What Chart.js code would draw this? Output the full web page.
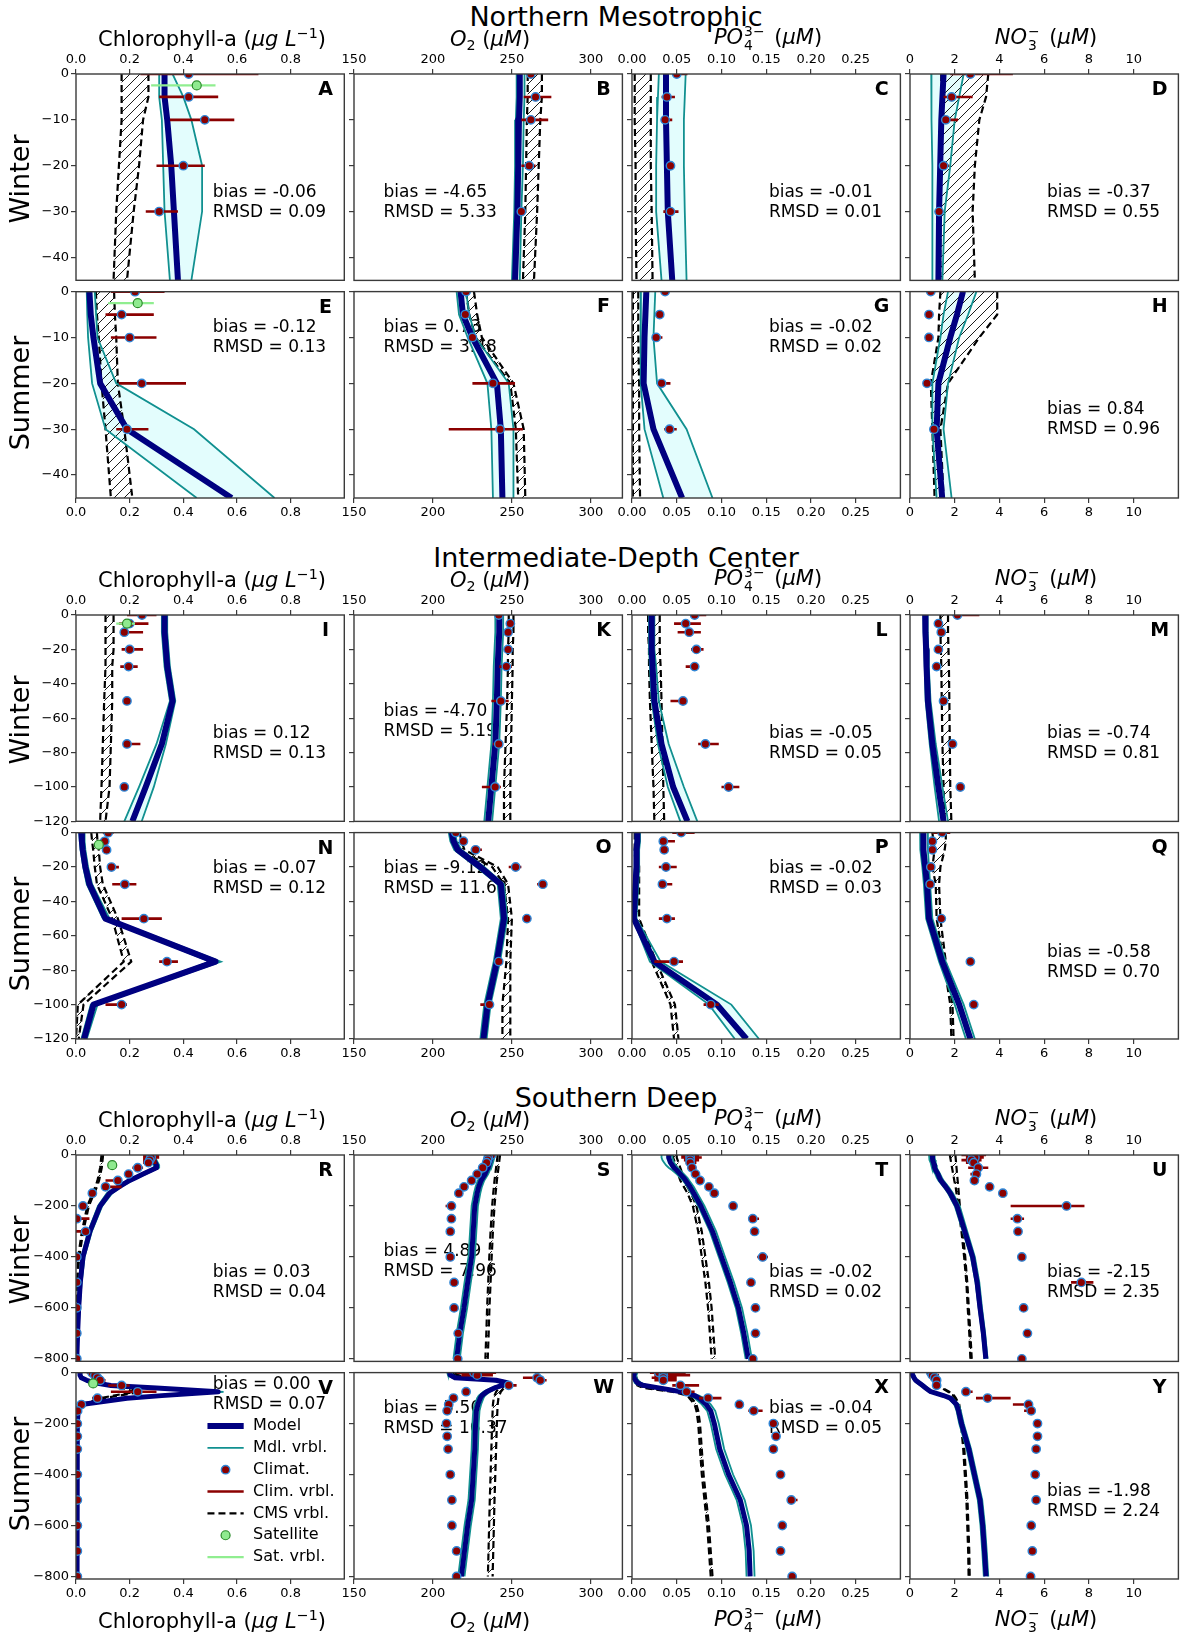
<!DOCTYPE html>
<html>
<head>
<meta charset="utf-8">
<script src="https://cdn.jsdelivr.net/npm/chart.js@4.4.1/dist/chart.umd.min.js"></script>
<style>
  body { margin: 0; background: #fff; }
  #fig { position: relative; width: 1186px; height: 1637px; overflow: hidden; font-family: "DejaVu Sans", sans-serif; }
  #fig canvas { position: absolute; }
  .t { position: absolute; white-space: nowrap; line-height: 1; color: #000; z-index: 5; }
  .sec { font-size: 27px; }
  .ax { font-size: 21px; }
  .rowlab { font-size: 27px; }
  .t sup { font-size: 0.68em; vertical-align: 0.55em; line-height: 0; }
  .t sub { font-size: 0.68em; vertical-align: -0.3em; line-height: 0; }
  .ss { display: inline-block; vertical-align: -0.42em; font-size: 0.66em; line-height: 1.0; margin: 0 3px 0 1px; font-style: normal; }
  .ss span { display: block; }
</style>
</head>
<body>
<div id="fig"></div>
<script>
// -----------------------------
// Depth grids (m)
// -----------------------------
const depth1 = [0, -5, -10, -20, -30, -45];
const climDepth1 = [0, -5, -10, -20, -30];
const depth2 = [0, -5, -10, -20, -30, -50, -75, -100, -120];
const climDepth2 = [0, -5, -10, -20, -30, -50, -75, -100];
const depth3 = [0, -10, -20, -30, -40, -50, -60, -75, -90, -100, -125, -150, -200, -300, -400, -500, -600, -700, -800];
const climDepth3 = [0, -10, -20, -30, -50, -75, -100, -125, -150, -200, -250, -300, -400, -500, -600, -700, -800];

// -----------------------------
// Northern Mesotrophic
// -----------------------------
const modelA = [0.33, 0.33, 0.34, 0.355, 0.365, 0.38];
const mdlLoA = [0.31, 0.31, 0.32, 0.325, 0.33, 0.35];
const mdlHiA = [0.36, 0.40, 0.43, 0.47, 0.47, 0.43];
const cmsLoA = [0.17, 0.17, 0.17, 0.16, 0.15, 0.14];
const cmsHiA = [0.27, 0.27, 0.25, 0.235, 0.215, 0.19];
const climA = [0.42, 0.42, 0.48, 0.40, 0.31];
const climLoA = [0.24, 0.31, 0.35, 0.30, 0.26];
const climHiA = [0.68, 0.53, 0.59, 0.48, 0.38];
const satA = [-2.5, 0.45, 0.28, 0.52]; // depth, value, min, max

const modelB = [255, 255, 254.5, 254, 253.5, 252];
const mdlLoB = [253, 253, 252.5, 252, 251.5, 250];
const mdlHiB = [258, 258, 257.5, 257, 256, 255];
const cmsLoB = [260, 260, 259.5, 259, 258.5, 257];
const cmsHiB = [269, 269, 268, 267, 266, 264];
const climB = [262, 265, 262, 261, 256];
const climLoB = [261, 257.5, 256, 256, 255];
const climHiB = [263, 275, 273, 265, 257];

const modelC = [0.038, 0.038, 0.038, 0.039, 0.040, 0.045];
const mdlLoC = [0.030, 0.029, 0.028, 0.027, 0.027, 0.033];
const mdlHiC = [0.060, 0.059, 0.058, 0.058, 0.059, 0.061];
const cmsLoC = [0.003, 0.003, 0.003, 0.004, 0.004, 0.005];
const cmsHiC = [0.021, 0.021, 0.021, 0.021, 0.022, 0.023];
const climC = [0.050, 0.039, 0.037, 0.043, 0.043];
const climLoC = [0.045, 0.033, 0.033, 0.041, 0.035];
const climHiC = [0.062, 0.048, 0.045, 0.046, 0.052];

const modelD = [1.5, 1.45, 1.4, 1.35, 1.3, 1.27];
const mdlLoD = [0.95, 0.95, 0.97, 1.0, 1.0, 1.0];
const mdlHiD = [2.4, 2.2, 2.0, 1.8, 1.55, 1.45];
const cmsLoD = [1.4, 1.4, 1.4, 1.38, 1.36, 1.35];
const cmsHiD = [3.5, 3.4, 3.1, 2.9, 2.8, 2.9];
const climD = [2.7, 1.86, 1.6, 1.5, 1.3];
const climLoD = [1.8, 1.5, 1.5, 1.4, 1.2];
const climHiD = [4.6, 2.8, 2.15, 1.75, 1.4];

const modelE = [0.05, 0.055, 0.065, 0.09, 0.19, 0.58];
const mdlLoE = [0.04, 0.042, 0.045, 0.06, 0.11, 0.45];
const mdlHiE = [0.07, 0.075, 0.08, 0.15, 0.44, 0.74];
const cmsLoE = [0.074, 0.078, 0.085, 0.095, 0.11, 0.13];
const cmsHiE = [0.142, 0.145, 0.15, 0.156, 0.18, 0.21];
const climE = [0.22, 0.17, 0.20, 0.245, 0.19];
const climLoE = [0.13, 0.11, 0.13, 0.16, 0.15];
const climHiE = [0.33, 0.29, 0.30, 0.41, 0.27];
const satE = [-2.5, 0.23, 0.12, 0.29];

const modelF = [217.5, 219, 225, 240.5, 243, 244];
const mdlLoF = [215, 216.5, 222, 234.5, 237, 238];
const mdlHiF = [221, 223, 227, 248, 251, 251];
const cmsLoF = [221, 223, 227, 249, 252.5, 254];
const cmsHiF = [226, 228, 231, 251, 257.5, 258.5];
const climF = [221, 220.5, 225, 238, 242.5];
const climLoF = [220, 219.5, 224, 225, 210];
const climHiF = [222, 221.5, 226, 252, 257];

const modelG = [0.016, 0.015, 0.014, 0.013, 0.024, 0.056];
const mdlLoG = [0.010, 0.010, 0.010, 0.009, 0.014, 0.035];
const mdlHiG = [0.026, 0.025, 0.024, 0.028, 0.061, 0.090];
const cmsLoG = [0.001, 0.001, 0.001, 0.001, 0.001, 0.001];
const cmsHiG = [0.007, 0.007, 0.007, 0.008, 0.008, 0.009];
const climG = [0.037, 0.031, 0.027, 0.033, 0.042];
const climLoG = [0.035, 0.029, 0.024, 0.028, 0.036];
const climHiG = [0.039, 0.034, 0.034, 0.043, 0.050];

const modelH = [2.37, 2.1, 1.8, 1.27, 1.19, 1.44];
const mdlLoH = [1.7, 1.5, 1.36, 1.0, 1.0, 1.19];
const mdlHiH = [2.97, 2.6, 2.2, 1.7, 1.5, 1.86];
const cmsLoH = [1.36, 1.3, 1.27, 0.93, 1.0, 1.1];
const cmsHiH = [3.9, 3.9, 3.1, 1.7, 1.36, 1.5];
const climH = [0.93, 0.85, 0.85, 0.76, 1.07];
const climLoH = [0.88, 0.8, 0.8, 0.72, 1.0];
const climHiH = [0.98, 0.95, 0.92, 0.8, 1.15];

// -----------------------------
// Intermediate-Depth Center
// -----------------------------
const modelI = [0.33, 0.33, 0.33, 0.335, 0.34, 0.36, 0.32, 0.26, 0.21];
const mdlLoI = [0.32, 0.32, 0.32, 0.325, 0.33, 0.35, 0.30, 0.235, 0.18];
const mdlHiI = [0.34, 0.34, 0.34, 0.345, 0.35, 0.37, 0.335, 0.29, 0.245];
const cmsLoI = [0.11, 0.11, 0.11, 0.11, 0.11, 0.105, 0.1, 0.095, 0.09];
const cmsHiI = [0.14, 0.14, 0.14, 0.14, 0.135, 0.135, 0.13, 0.125, 0.11];
const climI = [0.246, 0.2, 0.18, 0.2, 0.196, 0.19, 0.19, 0.18];
const climLoI = [0.19, 0.16, 0.17, 0.17, 0.165, 0.185, 0.19, 0.175];
const climHiI = [0.30, 0.27, 0.25, 0.25, 0.23, 0.195, 0.24, 0.185];
const satI = [-5, 0.19, 0.15, 0.22];

const modelK = [242, 242, 242, 241.5, 241, 240.5, 239.5, 237, 235];
const mdlLoK = [239.5, 239.5, 239.5, 239, 238.5, 238, 237, 234.5, 232.5];
const mdlHiK = [244.5, 244.5, 244.5, 244, 243.5, 243, 242, 239.5, 237.5];
const cmsLoK = [248, 248, 248, 247.5, 247.5, 247, 246, 245, 245];
const cmsHiK = [251, 251, 251, 250.5, 250.5, 250, 249.5, 249, 249];
const climK = [241.7, 249, 247.6, 247.6, 246.5, 243, 241.7, 239.4];
const climLoK = [241, 247, 245, 245, 242, 237, 238, 231];
const climHiK = [242.5, 252, 250, 250, 250, 248, 243, 243];

const modelL = [0.022, 0.022, 0.022, 0.022, 0.023, 0.025, 0.033, 0.046, 0.062];
const mdlLoL = [0.019, 0.019, 0.019, 0.019, 0.02, 0.022, 0.029, 0.04, 0.054];
const mdlHiL = [0.025, 0.025, 0.025, 0.025, 0.027, 0.03, 0.041, 0.058, 0.073];
const cmsLoL = [0.018, 0.018, 0.018, 0.019, 0.019, 0.02, 0.022, 0.024, 0.025];
const cmsHiL = [0.031, 0.031, 0.031, 0.031, 0.032, 0.033, 0.034, 0.035, 0.036];
const climL = [0.07, 0.06, 0.064, 0.072, 0.07, 0.057, 0.082, 0.108];
const climLoL = [0.065, 0.047, 0.051, 0.066, 0.06, 0.043, 0.074, 0.1];
const climHiL = [0.083, 0.077, 0.077, 0.08, 0.075, 0.06, 0.097, 0.12];

const modelM = [0.68, 0.68, 0.7, 0.72, 0.74, 0.8, 1.0, 1.27, 1.5];
const mdlLoM = [0.6, 0.6, 0.62, 0.64, 0.66, 0.7, 0.88, 1.1, 1.3];
const mdlHiM = [0.78, 0.78, 0.8, 0.82, 0.84, 0.92, 1.15, 1.45, 1.7];
const cmsLoM = [1.36, 1.36, 1.36, 1.38, 1.4, 1.42, 1.45, 1.5, 1.55];
const cmsHiM = [1.7, 1.7, 1.7, 1.72, 1.74, 1.76, 1.78, 1.8, 1.85];
const climM = [2.12, 1.27, 1.4, 1.27, 1.19, 1.5, 1.9, 2.25];
const climLoM = [1.9, 1.1, 1.35, 1.2, 1.12, 1.45, 1.82, 2.2];
const climHiM = [3.1, 1.4, 1.45, 1.34, 1.25, 1.55, 1.98, 2.3];

const modelN = [0.02, 0.022, 0.025, 0.035, 0.05, 0.11, 0.52, 0.065, 0.03];
const mdlLoN = [0.012, 0.014, 0.017, 0.027, 0.04, 0.1, 0.5, 0.055, 0.02];
const mdlHiN = [0.03, 0.032, 0.035, 0.045, 0.06, 0.125, 0.54, 0.08, 0.04];
const cmsLoN = [0.057, 0.06, 0.064, 0.07, 0.078, 0.135, 0.178, 0.007, 0.0];
const cmsHiN = [0.078, 0.08, 0.085, 0.09, 0.1, 0.156, 0.206, 0.028, 0.01];
const climN = [0.12, 0.107, 0.114, 0.132, 0.182, 0.253, 0.339, 0.17];
const climLoN = [0.1, 0.1, 0.107, 0.12, 0.135, 0.17, 0.31, 0.11];
const climHiN = [0.14, 0.115, 0.12, 0.16, 0.225, 0.32, 0.38, 0.19];
const satN = [-7, 0.085, 0.075, 0.095];

const modelO = [212, 213, 215.7, 230, 243, 245, 240.5, 234.6, 232];
const mdlLoO = [210, 211, 213.5, 227.5, 241, 243, 238.5, 232.5, 230];
const mdlHiO = [214, 215, 218, 232.5, 245, 247, 242.5, 236.5, 234];
const cmsLoO = [213, 214, 216, 237.5, 245, 247.6, 246.5, 244, 244];
const cmsHiO = [217, 218, 220, 241, 247.6, 250, 249, 249, 249];
const climO = [214.5, 219.3, 227, 252.4, 269.6, 259.5, 241.7, 235.8];
const climLoO = [214, 218.5, 224, 248, 266, 259, 240, 230];
const climHiO = [215, 220, 231, 256, 272, 260, 243, 238];

const modelP = [0.006, 0.006, 0.005, 0.005, 0.004, 0.002, 0.025, 0.095, 0.128];
const mdlLoP = [0.004, 0.004, 0.003, 0.003, 0.002, 0.001, 0.02, 0.086, 0.115];
const mdlHiP = [0.009, 0.009, 0.008, 0.008, 0.007, 0.005, 0.032, 0.111, 0.142];
const cmsLoP = [0.003, 0.003, 0.003, 0.004, 0.004, 0.004, 0.022, 0.043, 0.047];
const cmsHiP = [0.007, 0.007, 0.007, 0.008, 0.008, 0.008, 0.027, 0.048, 0.052];
const climP = [0.055, 0.035, 0.036, 0.038, 0.034, 0.039, 0.047, 0.088];
const climLoP = [0.045, 0.035, 0.035, 0.03, 0.034, 0.03, 0.025, 0.08];
const climHiP = [0.07, 0.048, 0.038, 0.05, 0.045, 0.048, 0.057, 0.097];

const modelQ = [0.6, 0.6, 0.6, 0.68, 0.76, 0.85, 1.44, 2.2, 2.7];
const mdlLoQ = [0.45, 0.45, 0.47, 0.55, 0.62, 0.72, 1.3, 2.0, 2.5];
const mdlHiQ = [0.8, 0.8, 0.8, 0.85, 0.9, 1.0, 1.6, 2.4, 2.9];
const cmsLoQ = [1.0, 1.05, 1.1, 1.0, 1.15, 1.19, 1.5, 1.8, 1.85];
const cmsHiQ = [1.6, 1.6, 1.55, 1.36, 1.3, 1.36, 1.6, 1.9, 1.95];
const climQ = [1.44, 1.0, 1.0, 0.93, 0.9, 1.4, 2.7, 2.85];
const climLoQ = [1.0, 0.9, 0.95, 0.88, 0.85, 1.35, 2.65, 2.8];
const climHiQ = [1.8, 1.1, 1.05, 0.98, 0.95, 1.45, 2.75, 2.9];

// -----------------------------
// Southern Deep
// -----------------------------
const modelR = [0.27, 0.28, 0.29, 0.295, 0.30, 0.30, 0.28, 0.25, 0.22, 0.20, 0.16, 0.125, 0.09, 0.052, 0.026, 0.016, 0.01, 0.006, 0.003];
const mdlLoR = [0.26, 0.27, 0.28, 0.285, 0.29, 0.29, 0.27, 0.24, 0.21, 0.19, 0.15, 0.115, 0.082, 0.045, 0.02, 0.011, 0.006, 0.003, 0.001];
const mdlHiR = [0.28, 0.29, 0.30, 0.305, 0.31, 0.31, 0.29, 0.26, 0.23, 0.21, 0.17, 0.135, 0.098, 0.059, 0.032, 0.021, 0.014, 0.009, 0.005];
const cmsLoR = [0.095, 0.094, 0.093, 0.092, 0.091, 0.09, 0.088, 0.085, 0.082, 0.08, 0.072, 0.062, 0.042, 0.022, 0.008, 0.004, 0.002, 0.001, 0.001];
const cmsHiR = [0.101, 0.1, 0.099, 0.098, 0.097, 0.096, 0.094, 0.091, 0.088, 0.086, 0.078, 0.068, 0.048, 0.027, 0.012, 0.006, 0.003, 0.002, 0.002];
const climR = [0.28, 0.28, 0.275, 0.27, 0.23, 0.196, 0.156, 0.11, 0.061, 0.026, 0.003, 0.036, 0.003, 0.003, 0.003, 0.003, 0.003];
const climLoR = [0.25, 0.25, 0.25, 0.25, 0.21, 0.18, 0.11, 0.1, 0.058, 0.02, 0, 0, 0, 0, 0, 0, 0];
const climHiR = [0.31, 0.31, 0.3, 0.3, 0.25, 0.21, 0.17, 0.17, 0.065, 0.03, 0.05, 0.04, 0.006, 0.006, 0.006, 0.006, 0.006];
const satR = [-40, 0.135, 0.13, 0.14];

const modelS = [237.5, 237, 236.5, 236, 235.5, 235, 234, 233, 231.5, 230.5, 229, 228, 226.5, 225.5, 224.5, 222, 219.7, 217, 215];
const mdlLoS = [235.5, 235, 234.5, 234, 233.5, 233, 232, 231, 229.5, 228.5, 227, 226, 224.5, 223.5, 222.5, 220, 217.7, 215, 213];
const mdlHiS = [239.5, 239, 238.5, 238, 237.5, 237, 236, 235, 233.5, 232.5, 231, 230, 228.5, 227.5, 226.5, 224, 221.7, 219, 217];
const cmsLoS = [241, 240.8, 240.6, 240.4, 240.2, 240, 239.8, 239.5, 239.2, 239, 238.6, 238.2, 237.5, 236.5, 235.7, 235, 234.3, 233.8, 233.2];
const cmsHiS = [242.5, 242.3, 242.1, 241.9, 241.7, 241.5, 241.3, 241, 240.7, 240.5, 240.1, 239.7, 239, 238, 237.2, 236.5, 235.8, 235.3, 234.7];
const climS = [237, 235, 234.6, 234, 231.5, 228, 224.5, 219.7, 216.4, 211.7, 211.7, 211, 211, 213.4, 213.4, 216, 215.7];
const climLoS = [236, 234, 233.5, 233, 230.5, 227, 223.5, 219, 215.5, 208, 211, 210.5, 210.5, 213, 213, 215.5, 215.2];
const climHiS = [238, 236, 235.5, 235, 232.5, 229, 225.5, 220.5, 217.3, 213, 212.4, 211.5, 211.5, 213.8, 213.8, 216.5, 216.2];

const modelT = [0.041, 0.041, 0.042, 0.043, 0.045, 0.047, 0.05, 0.054, 0.058, 0.06, 0.065, 0.069, 0.077, 0.09, 0.1, 0.11, 0.119, 0.125, 0.13];
const mdlLoT = [0.033, 0.033, 0.034, 0.036, 0.038, 0.041, 0.045, 0.05, 0.054, 0.057, 0.062, 0.066, 0.074, 0.087, 0.097, 0.107, 0.116, 0.122, 0.127];
const mdlHiT = [0.045, 0.045, 0.046, 0.047, 0.049, 0.051, 0.054, 0.058, 0.062, 0.064, 0.069, 0.073, 0.081, 0.094, 0.104, 0.114, 0.123, 0.129, 0.134];
const cmsLoT = [0.045, 0.046, 0.047, 0.048, 0.049, 0.05, 0.051, 0.052, 0.053, 0.054, 0.058, 0.062, 0.068, 0.074, 0.078, 0.082, 0.085, 0.087, 0.089];
const cmsHiT = [0.05, 0.05, 0.051, 0.052, 0.053, 0.054, 0.055, 0.056, 0.057, 0.058, 0.062, 0.066, 0.072, 0.078, 0.082, 0.086, 0.089, 0.091, 0.093];
const climT = [0.065, 0.065, 0.065, 0.065, 0.067, 0.071, 0.076, 0.086, 0.092, 0.113, 0.135, 0.137, 0.146, 0.133, 0.138, 0.138, 0.135];
const climLoT = [0.055, 0.055, 0.058, 0.06, 0.062, 0.067, 0.073, 0.083, 0.09, 0.111, 0.13, 0.136, 0.14, 0.132, 0.137, 0.137, 0.134];
const climHiT = [0.075, 0.078, 0.075, 0.072, 0.072, 0.076, 0.08, 0.09, 0.095, 0.115, 0.142, 0.139, 0.152, 0.135, 0.139, 0.139, 0.136];

const modelU = [1.0, 1.0, 1.02, 1.05, 1.08, 1.1, 1.15, 1.25, 1.32, 1.38, 1.6, 1.8, 2.1, 2.45, 2.8, 3.0, 3.13, 3.28, 3.39];
const mdlLoU = [0.85, 0.86, 0.88, 0.92, 0.95, 0.98, 1.03, 1.13, 1.2, 1.27, 1.5, 1.7, 2.0, 2.36, 2.72, 2.93, 3.07, 3.22, 3.33];
const mdlHiU = [1.1, 1.1, 1.12, 1.15, 1.18, 1.2, 1.25, 1.35, 1.43, 1.5, 1.72, 1.92, 2.22, 2.56, 2.9, 3.1, 3.22, 3.36, 3.47];
const cmsLoU = [1.78, 1.8, 1.82, 1.84, 1.86, 1.88, 1.9, 1.93, 1.96, 1.98, 2.04, 2.08, 2.15, 2.3, 2.42, 2.52, 2.58, 2.65, 2.7];
const cmsHiU = [2.03, 2.04, 2.05, 2.06, 2.07, 2.08, 2.09, 2.1, 2.12, 2.13, 2.16, 2.18, 2.23, 2.36, 2.47, 2.56, 2.63, 2.7, 2.76];
const climU = [2.8, 2.9, 2.75, 2.85, 3.05, 2.97, 2.88, 3.56, 4.15, 7.0, 4.8, 4.83, 5.0, 7.66, 5.08, 5.25, 5.0];
const climLoU = [2.3, 2.5, 2.3, 2.5, 2.6, 2.7, 2.8, 3.5, 4.1, 4.5, 4.5, 4.8, 4.95, 7.2, 5.05, 5.2, 4.95];
const climHiU = [3.4, 3.3, 3.2, 3.1, 3.5, 3.1, 2.95, 3.6, 4.2, 7.8, 5.1, 4.86, 5.05, 8.2, 5.1, 5.3, 5.05];

const modelV = [0.015, 0.015, 0.02, 0.04, 0.07, 0.13, 0.3, 0.53, 0.32, 0.19, 0.02, 0.008, 0.005, 0.004, 0.004, 0.004, 0.004, 0.004, 0.004];
const mdlLoV = [0.01, 0.01, 0.015, 0.035, 0.06, 0.12, 0.28, 0.51, 0.3, 0.17, 0.015, 0.005, 0.003, 0.002, 0.002, 0.002, 0.002, 0.002, 0.002];
const mdlHiV = [0.02, 0.02, 0.025, 0.045, 0.08, 0.14, 0.32, 0.55, 0.34, 0.21, 0.028, 0.012, 0.007, 0.006, 0.006, 0.006, 0.006, 0.006, 0.006];
const cmsLoV = [0.052, 0.06, 0.07, 0.08, 0.09, 0.12, 0.17, 0.22, 0.14, 0.09, 0.025, 0.006, 0.003, 0.002, 0.002, 0.002, 0.002, 0.002, 0.002];
const cmsHiV = [0.062, 0.07, 0.08, 0.09, 0.1, 0.135, 0.19, 0.24, 0.16, 0.105, 0.035, 0.01, 0.005, 0.004, 0.004, 0.004, 0.004, 0.004, 0.004];
const climV = [0.06, 0.07, 0.08, 0.09, 0.17, 0.23, 0.08, 0.02, 0.006, 0.005, 0.005, 0.005, 0.005, 0.005, 0.005, 0.005, 0.005];
const climLoV = [0.04, 0.05, 0.06, 0.07, 0.12, 0.13, 0.06, 0.015, 0.004, 0.004, 0.004, 0.004, 0.004, 0.004, 0.004, 0.004, 0.004];
const climHiV = [0.08, 0.09, 0.1, 0.11, 0.2, 0.3, 0.1, 0.025, 0.008, 0.006, 0.006, 0.006, 0.006, 0.006, 0.006, 0.006, 0.006];
const satV = [-42, 0.064, 0.06, 0.07];

const modelW = [210.5, 211, 214, 240, 247, 244, 239, 234, 231, 230, 228.5, 227.5, 227, 226.5, 225.5, 224.5, 222, 220, 218];
const mdlLoW = [209, 209.5, 212, 236, 244, 241.5, 237, 232, 229, 228, 226.5, 225.5, 225, 224.5, 223.5, 222.5, 220, 218, 216];
const mdlHiW = [212, 212.5, 216, 243, 249, 246.5, 241, 236, 233, 232, 230.5, 229.5, 229, 228.5, 227.5, 226.5, 224, 222, 220];
const cmsLoW = [212, 214, 220, 240, 246, 245, 242, 240, 239, 238.5, 238, 237.8, 237.5, 237, 236.5, 236, 235.6, 235.2, 234.8];
const cmsHiW = [214, 216, 223, 243, 249, 248, 245, 243, 242, 241.5, 241, 240.8, 240.5, 240, 239.5, 239, 238.6, 238.2, 237.8];
const climW = [226, 228, 266, 268, 248, 221, 213, 210, 209, 208.6, 209, 209.6, 211, 212, 212, 215, 215];
const climLoW = [215, 218, 257, 265, 245, 220, 212, 209.5, 208.5, 208, 208.5, 209, 210.5, 211.5, 211.5, 214.5, 214.5];
const climHiW = [240, 238, 270, 272, 253, 222, 214, 210.5, 209.5, 209.2, 209.5, 210.2, 211.5, 212.5, 212.5, 215.5, 215.5];

const modelX = [0.003, 0.002, 0.002, 0.004, 0.006, 0.012, 0.03, 0.055, 0.07, 0.075, 0.083, 0.088, 0.092, 0.098, 0.108, 0.121, 0.128, 0.131, 0.132];
const mdlLoX = [0.001, 0.001, 0.001, 0.002, 0.003, 0.008, 0.025, 0.05, 0.065, 0.07, 0.078, 0.084, 0.088, 0.094, 0.104, 0.117, 0.124, 0.127, 0.128];
const mdlHiX = [0.006, 0.005, 0.005, 0.007, 0.01, 0.017, 0.036, 0.06, 0.075, 0.08, 0.088, 0.093, 0.097, 0.103, 0.113, 0.126, 0.133, 0.136, 0.137];
const cmsLoX = [0.002, 0.002, 0.003, 0.004, 0.005, 0.006, 0.012, 0.045, 0.062, 0.064, 0.07, 0.072, 0.074, 0.076, 0.078, 0.081, 0.084, 0.086, 0.088];
const cmsHiX = [0.004, 0.004, 0.005, 0.006, 0.007, 0.008, 0.016, 0.048, 0.065, 0.067, 0.072, 0.074, 0.076, 0.078, 0.08, 0.083, 0.086, 0.088, 0.09];
const climX = [0.03, 0.035, 0.035, 0.035, 0.054, 0.061, 0.085, 0.12, 0.136, 0.158, 0.161, 0.158, 0.166, 0.178, 0.168, 0.166, 0.179];
const climLoX = [0.02, 0.025, 0.022, 0.025, 0.045, 0.055, 0.075, 0.117, 0.13, 0.157, 0.16, 0.157, 0.165, 0.174, 0.165, 0.165, 0.178];
const climHiX = [0.06, 0.065, 0.05, 0.05, 0.075, 0.07, 0.1, 0.123, 0.146, 0.159, 0.162, 0.159, 0.167, 0.185, 0.172, 0.167, 0.18];

const modelY = [0.08, 0.12, 0.18, 0.25, 0.4, 0.55, 0.7, 0.93, 1.5, 1.8, 2.08, 2.17, 2.3, 2.63, 2.88, 3.13, 3.25, 3.33, 3.4];
const mdlLoY = [0.02, 0.05, 0.1, 0.17, 0.3, 0.45, 0.6, 0.83, 1.4, 1.7, 1.98, 2.08, 2.2, 2.53, 2.78, 3.03, 3.15, 3.23, 3.3];
const mdlHiY = [0.15, 0.2, 0.25, 0.33, 0.5, 0.65, 0.8, 1.03, 1.6, 1.9, 2.18, 2.27, 2.4, 2.73, 2.98, 3.23, 3.35, 3.43, 3.5];
const cmsLoY = [0.9, 0.92, 0.95, 1.0, 1.1, 1.2, 1.4, 1.7, 1.92, 2.0, 2.15, 2.2, 2.28, 2.38, 2.45, 2.52, 2.56, 2.6, 2.62];
const cmsHiY = [0.95, 0.97, 1.0, 1.05, 1.15, 1.25, 1.45, 1.75, 1.97, 2.05, 2.2, 2.25, 2.33, 2.43, 2.5, 2.57, 2.61, 2.65, 2.67];
const climY = [0.93, 1.0, 1.1, 1.19, 1.19, 2.5, 3.47, 5.3, 5.42, 5.7, 5.7, 5.64, 5.6, 5.64, 5.42, 5.47, 5.39];
const climLoY = [0.75, 0.8, 0.9, 1.0, 1.1, 2.4, 2.95, 4.6, 5.1, 5.65, 5.65, 5.6, 5.55, 5.6, 5.38, 5.43, 5.35];
const climHiY = [1.0, 1.3, 1.3, 1.3, 1.3, 2.8, 4.5, 5.4, 5.45, 5.75, 5.75, 5.68, 5.65, 5.68, 5.46, 5.5, 5.43];

// -----------------------------
// Panel labels, statistics, axes
// -----------------------------
const panelIds = ['A', 'B', 'C', 'D', 'E', 'F', 'G', 'H', 'I', 'K', 'L', 'M',
                  'N', 'O', 'P', 'Q', 'R', 'S', 'T', 'U', 'V', 'W', 'X', 'Y'];
const biasVals = ['-0.06', '-4.65', '-0.01', '-0.37', '-0.12', '0.73', '-0.02', '0.84',
                  '0.12', '-4.70', '-0.05', '-0.74', '-0.07', '-9.12', '-0.02', '-0.58',
                  '0.03', '4.89', '-0.02', '-2.15', '0.00', '5.50', '-0.04', '-1.98'];
const rmsdVals = ['0.09', '5.33', '0.01', '0.55', '0.13', '3.48', '0.02', '0.96',
                  '0.13', '5.19', '0.05', '0.81', '0.12', '11.62', '0.03', '0.70',
                  '0.04', '7.96', '0.02', '2.35', '0.07', '16.37', '0.05', '2.24'];
const sectionTitles = ['Northern Mesotrophic', 'Intermediate-Depth Center', 'Southern Deep'];
const rowTitles = ['Winter', 'Summer'];
const axisTitles = [
  'Chlorophyll-a (<i>μg L</i><sup>−1</sup>)',
  '<i>O</i><sub>2</sub> (<i>μM</i>)',
  '<i>PO</i><span class="ss"><span>3−</span><span>4</span></span> (<i>μM</i>)',
  '<i>NO</i><span class="ss"><span>−</span><span>3</span></span> (<i>μM</i>)'
];
const xMin = [0, 150, 0, 0];
const xMax = [1.0, 320, 0.3, 12];
const xStep = [0.2, 50, 0.05, 2];
const xDecimals = [1, 0, 2, 0];
const yMin = [-45, -120, -810];
const yTicks1 = [0, -10, -20, -30, -40];
const yTicks2 = [0, -20, -40, -60, -80, -100, -120];
const yTicks3 = [0, -200, -400, -600, -800];
const legendLabels = ['Model', 'Mdl. vrbl.', 'Climat.', 'Clim. vrbl.', 'CMS vrbl.', 'Satellite', 'Sat. vrbl.'];

const depthGrids = [depth1, depth2, depth3];
const climGrids = [climDepth1, climDepth2, climDepth3];
const yTickSets = [yTicks1, yTicks2, yTicks3];

function pd(model, lo, hi, cLo, cHi, clim, climLo, climHi, sat) {
  return { model, lo, hi, cLo, cHi, clim, climLo, climHi, sat };
}
const panelData = {
  A: pd(modelA, mdlLoA, mdlHiA, cmsLoA, cmsHiA, climA, climLoA, climHiA, satA),
  B: pd(modelB, mdlLoB, mdlHiB, cmsLoB, cmsHiB, climB, climLoB, climHiB),
  C: pd(modelC, mdlLoC, mdlHiC, cmsLoC, cmsHiC, climC, climLoC, climHiC),
  D: pd(modelD, mdlLoD, mdlHiD, cmsLoD, cmsHiD, climD, climLoD, climHiD),
  E: pd(modelE, mdlLoE, mdlHiE, cmsLoE, cmsHiE, climE, climLoE, climHiE, satE),
  F: pd(modelF, mdlLoF, mdlHiF, cmsLoF, cmsHiF, climF, climLoF, climHiF),
  G: pd(modelG, mdlLoG, mdlHiG, cmsLoG, cmsHiG, climG, climLoG, climHiG),
  H: pd(modelH, mdlLoH, mdlHiH, cmsLoH, cmsHiH, climH, climLoH, climHiH),
  I: pd(modelI, mdlLoI, mdlHiI, cmsLoI, cmsHiI, climI, climLoI, climHiI, satI),
  K: pd(modelK, mdlLoK, mdlHiK, cmsLoK, cmsHiK, climK, climLoK, climHiK),
  L: pd(modelL, mdlLoL, mdlHiL, cmsLoL, cmsHiL, climL, climLoL, climHiL),
  M: pd(modelM, mdlLoM, mdlHiM, cmsLoM, cmsHiM, climM, climLoM, climHiM),
  N: pd(modelN, mdlLoN, mdlHiN, cmsLoN, cmsHiN, climN, climLoN, climHiN, satN),
  O: pd(modelO, mdlLoO, mdlHiO, cmsLoO, cmsHiO, climO, climLoO, climHiO),
  P: pd(modelP, mdlLoP, mdlHiP, cmsLoP, cmsHiP, climP, climLoP, climHiP),
  Q: pd(modelQ, mdlLoQ, mdlHiQ, cmsLoQ, cmsHiQ, climQ, climLoQ, climHiQ),
  R: pd(modelR, mdlLoR, mdlHiR, cmsLoR, cmsHiR, climR, climLoR, climHiR, satR),
  S: pd(modelS, mdlLoS, mdlHiS, cmsLoS, cmsHiS, climS, climLoS, climHiS),
  T: pd(modelT, mdlLoT, mdlHiT, cmsLoT, cmsHiT, climT, climLoT, climHiT),
  U: pd(modelU, mdlLoU, mdlHiU, cmsLoU, cmsHiU, climU, climLoU, climHiU),
  V: pd(modelV, mdlLoV, mdlHiV, cmsLoV, cmsHiV, climV, climLoV, climHiV, satV),
  W: pd(modelW, mdlLoW, mdlHiW, cmsLoW, cmsHiW, climW, climLoW, climHiW),
  X: pd(modelX, mdlLoX, mdlHiX, cmsLoX, cmsHiX, climX, climLoX, climHiX),
  Y: pd(modelY, mdlLoY, mdlHiY, cmsLoY, cmsHiY, climY, climLoY, climHiY)
};

// -----------------------------
// Layout (pixels) and styles
// -----------------------------
const COL_X = [76, 354, 632, 910];
const ROW_Y = [74, 288, 615, 829, 1155, 1369];
const PW = 272, PH = 210, AXW = 60, AXH = 34, PAD = 2;
// where the bias/RMSD text sits, as fractions of the panel
const textPos = {
  A: [0.51, 0.575], B: [0.11, 0.575], C: [0.51, 0.575], D: [0.51, 0.575],
  E: [0.51, 0.175], F: [0.11, 0.175], G: [0.51, 0.175], H: [0.51, 0.57],
  I: [0.51, 0.575], K: [0.11, 0.47], L: [0.51, 0.575], M: [0.51, 0.575],
  N: [0.51, 0.175], O: [0.11, 0.175], P: [0.51, 0.175], Q: [0.51, 0.58],
  R: [0.51, 0.57], S: [0.11, 0.47], T: [0.51, 0.57], U: [0.51, 0.57],
  V: [0.51, 0.057], W: [0.11, 0.175], X: [0.51, 0.175], Y: [0.51, 0.575]
};
const NAVY = '#000080', TEAL = '#119090', CYAN_FILL = '#e3fdfd', DARKRED = '#8b0000',
      DOT_EDGE = '#2f86d6', SAT_FILL = '#8fea8f', SAT_EDGE = '#2a8a2a', SAT_BAR = '#90ee90',
      FRAME = '#3a3a3a', FONT = '"DejaVu Sans", sans-serif';

const fig = document.getElementById('fig');

function hatchPattern() {
  const c = document.createElement('canvas');
  c.width = 10; c.height = 10;
  const g = c.getContext('2d');
  g.strokeStyle = '#000';
  g.lineWidth = 0.9;
  g.beginPath();
  g.moveTo(0, 10); g.lineTo(10, 0);
  g.moveTo(-1, 1); g.lineTo(1, -1);
  g.moveTo(9, 11); g.lineTo(11, 9);
  g.stroke();
  return g.createPattern(c, 'repeat');
}
const HATCH = hatchPattern();

function pts(xs, ys) { return xs.map((x, i) => ({ x: x, y: ys[i] })); }
function band(lo, hi, ys) { return pts(lo, ys).concat(pts(hi, ys).reverse()); }
function bars(lo, hi, ys) {
  const out = [];
  ys.forEach((y, i) => { out.push({ x: lo[i], y: y }, { x: hi[i], y: y }, { x: null, y: null }); });
  return out;
}

function lineSet(data, color, width, order, extra) {
  return Object.assign({
    data: data, showLine: true, fill: false, borderColor: color, borderWidth: width,
    pointRadius: 0, order: order, clip: 0, tension: 0, spanGaps: false
  }, extra || {});
}

function buildDatasets(d, ys, cys, sec) {
  const modelW = sec === 2 ? 5 : 6;
  const sets = [
    lineSet(band(d.lo, d.hi, ys), 'rgba(0,0,0,0)', 0, 20, { fill: 'shape', backgroundColor: CYAN_FILL }),
    lineSet(band(d.cLo, d.cHi, ys), 'rgba(0,0,0,0)', 0, 19, { fill: 'shape', backgroundColor: HATCH }),
    lineSet(pts(d.cLo, ys), '#000', 2.2, 18, { borderDash: [7, 4] }),
    lineSet(pts(d.cHi, ys), '#000', 2.2, 18, { borderDash: [7, 4] }),
    lineSet(pts(d.lo, ys), TEAL, 1.8, 17),
    lineSet(pts(d.hi, ys), TEAL, 1.8, 17),
    lineSet(pts(d.model, ys), NAVY, modelW, 16, { borderJoinStyle: 'round' }),
    lineSet(bars(d.climLo, d.climHi, cys), DARKRED, 2.6, 15),
    {
      data: pts(d.clim, cys), showLine: false, order: 14, clip: 0,
      pointRadius: 4.2, pointBackgroundColor: DARKRED, pointBorderColor: DOT_EDGE, pointBorderWidth: 1.4
    }
  ];
  if (d.sat) {
    sets.push(lineSet(bars([d.sat[2]], [d.sat[3]], [d.sat[0]]), SAT_BAR, 2.2, 13));
    sets.push({
      data: [{ x: d.sat[1], y: d.sat[0] }], showLine: false, order: 12, clip: 0,
      pointRadius: 4.5, pointBackgroundColor: SAT_FILL, pointBorderColor: SAT_EDGE, pointBorderWidth: 1.2
    });
  }
  return sets;
}

// -----------------------------
// Plugin: statistics text, frame, panel letter, legend
// -----------------------------
const panelDecor = {
  id: 'panelDecor',
  beforeDatasetsDraw(chart, args, o) {
    const { ctx, chartArea: a } = chart;
    const x = a.left + o.tx * (a.right - a.left);
    const y = a.top + o.ty * (a.bottom - a.top);
    ctx.save();
    ctx.font = '17px ' + FONT;
    ctx.fillStyle = '#000';
    ctx.textBaseline = 'middle';
    ctx.fillText('bias = ' + o.bias, x, y);
    ctx.fillText('RMSD = ' + o.rmsd, x, y + 20);
    ctx.restore();
  },
  afterDatasetsDraw(chart, args, o) {
    const { ctx, chartArea: a } = chart;
    const w = a.right - a.left, h = a.bottom - a.top;
    ctx.save();
    ctx.strokeStyle = FRAME;
    ctx.lineWidth = 1.4;
    ctx.strokeRect(a.left, a.top, w, h);
    ctx.font = 'bold 19px ' + FONT;
    ctx.fillStyle = '#000';
    ctx.textAlign = 'center';
    ctx.textBaseline = 'middle';
    ctx.fillText(o.letter, a.left + 0.93 * w, a.top + 0.077 * h);
    if (o.legend) {
      const x0 = a.left + 0.49 * w, x1 = a.left + 0.625 * w, xt = a.left + 0.66 * w;
      ctx.font = '16px ' + FONT;
      ctx.textAlign = 'left';
      legendLabels.forEach((lab, i) => {
        const y = a.top + (0.258 + 0.106 * i) * h;
        ctx.setLineDash([]);
        if (i === 0 || i === 1 || i === 3 || i === 4 || i === 6) {
          ctx.beginPath();
          ctx.moveTo(x0, y); ctx.lineTo(x1, y);
          ctx.lineWidth = [6, 1.8, 0, 2.6, 2.4, 0, 2.2][i];
          ctx.strokeStyle = [NAVY, TEAL, '', DARKRED, '#000', '', SAT_BAR][i];
          if (i === 4) ctx.setLineDash([7, 4]);
          ctx.stroke();
        } else {
          ctx.beginPath();
          ctx.arc((x0 + x1) / 2, y, i === 2 ? 4.2 : 4.5, 0, Math.PI * 2);
          ctx.fillStyle = i === 2 ? DARKRED : SAT_FILL;
          ctx.fill();
          ctx.lineWidth = i === 2 ? 1.4 : 1.2;
          ctx.strokeStyle = i === 2 ? DOT_EDGE : SAT_EDGE;
          ctx.stroke();
        }
        ctx.fillStyle = '#000';
        ctx.fillText(lab, xt, y);
      });
    }
    ctx.restore();
  }
};

function fmtY(v) { return v < 0 ? '\u2212' + Math.abs(v) : String(v); }

// -----------------------------
// Build the 24 panels
// -----------------------------
panelIds.forEach(function (id, k) {
  const row = Math.floor(k / 4), col = k % 4, sec = Math.floor(row / 2);
  const topAxis = row % 2 === 0;
  const d = panelData[id];
  const cv = document.createElement('canvas');
  cv.width = AXW + PW + PAD;
  cv.height = PAD + AXH + PH + PAD;
  cv.style.left = (COL_X[col] - AXW) + 'px';
  cv.style.top = (topAxis ? ROW_Y[row] - AXH - PAD : ROW_Y[row] - PAD) + 'px';
  fig.appendChild(cv);

  const xmax = xMax[col];
  new Chart(cv.getContext('2d'), {
    type: 'scatter',
    data: { datasets: buildDatasets(d, depthGrids[sec], climGrids[sec], sec) },
    options: {
      responsive: false,
      animation: false,
      events: [],
      layout: { padding: { top: PAD, bottom: PAD, left: 0, right: PAD } },
      plugins: {
        legend: { display: false },
        tooltip: { enabled: false },
        panelDecor: {
          letter: id, bias: biasVals[k], rmsd: rmsdVals[k],
          tx: textPos[id][0], ty: textPos[id][1], legend: id === 'V'
        }
      },
      scales: {
        x: {
          type: 'linear',
          position: topAxis ? 'top' : 'bottom',
          min: xMin[col], max: xmax,
          border: { display: false },
          grid: { drawOnChartArea: false, drawTicks: true, tickLength: 5, color: FRAME, lineWidth: 1.2 },
          ticks: {
            stepSize: xStep[col], includeBounds: false, autoSkip: false, maxRotation: 0,
            padding: 2, color: '#000', font: { family: 'DejaVu Sans', size: 13 },
            callback: v => Number(v).toFixed(xDecimals[col])
          },
          afterBuildTicks: s => { s.ticks = s.ticks.filter(t => t.value < xmax - 1e-9); },
          afterFit: s => { s.height = AXH; s.paddingLeft = 0; s.paddingRight = 0; }
        },
        y: {
          type: 'linear',
          min: yMin[sec], max: 0,
          border: { display: false },
          grid: { drawOnChartArea: false, drawTicks: true, tickLength: 5, color: FRAME, lineWidth: 1.2 },
          ticks: {
            display: col === 0, autoSkip: false,
            padding: 2, color: '#000', font: { family: 'DejaVu Sans', size: 13 },
            callback: v => fmtY(v)
          },
          afterBuildTicks: s => { s.ticks = yTickSets[sec].map(v => ({ value: v })); },
          afterFit: s => { s.width = AXW; s.paddingTop = 0; s.paddingBottom = 0; }
        }
      }
    },
    plugins: [panelDecor]
  });
});

// -----------------------------
// Titles and labels (HTML text)
// -----------------------------
function addText(html, x, y, cls, rotate) {
  const el = document.createElement('div');
  el.className = 't ' + cls;
  el.innerHTML = html;
  el.style.left = x + 'px';
  el.style.top = y + 'px';
  el.style.transform = 'translate(-50%, -50%)' + (rotate ? ' rotate(-90deg)' : '');
  fig.appendChild(el);
}

const titleX = 616;
sectionTitles.forEach((t, s) => {
  addText(t, titleX, ROW_Y[2 * s] - 58, 'sec');
  axisTitles.forEach((a, c) => addText(a, COL_X[c] + PW / 2, ROW_Y[2 * s] - 35, 'ax'));
});
axisTitles.forEach((a, c) => addText(a, COL_X[c] + PW / 2, ROW_Y[5] + PH + 42, 'ax'));
ROW_Y.forEach((y, r) => addText(rowTitles[r % 2], 19, y + PH / 2, 'rowlab', true));
</script>
</body>
</html>
